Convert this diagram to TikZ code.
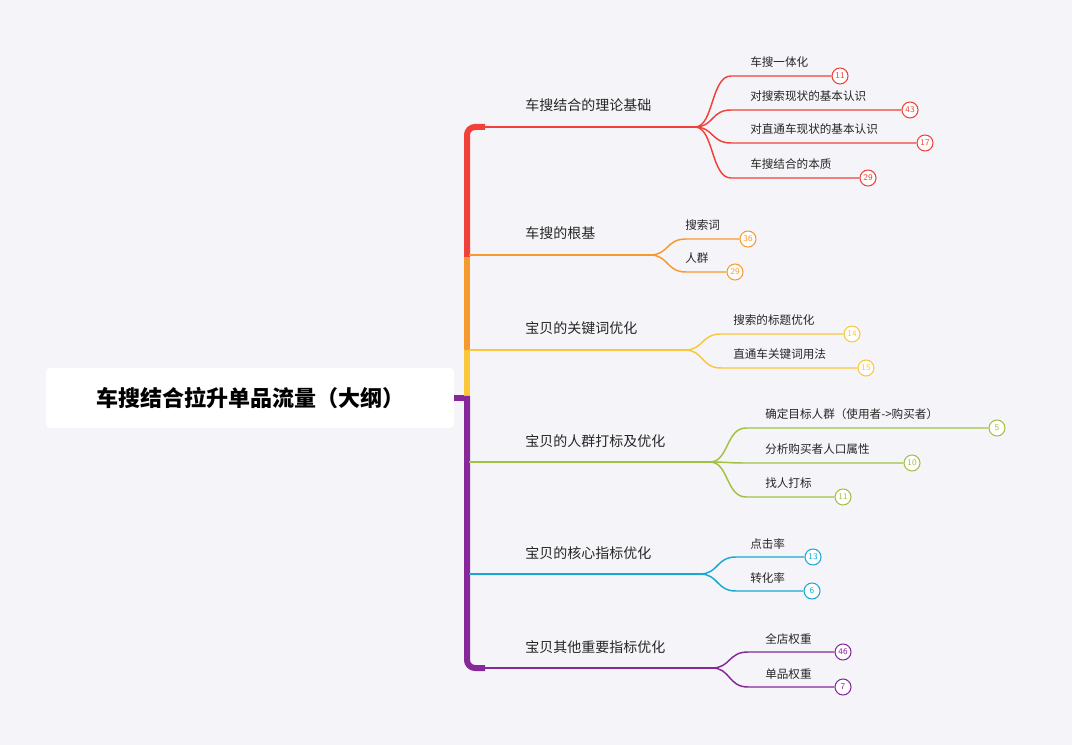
\documentclass[tikz,border=0pt]{standalone}
\usepackage{fontspec}
\newfontfamily\cjk{Noto Sans CJK SC}
\definecolor{bg}{HTML}{F5F5F9}
\definecolor{cR}{HTML}{F0413A}
\definecolor{cO}{HTML}{F79A2E}
\definecolor{cY}{HTML}{F9C73A}
\definecolor{cG}{HTML}{A2C141}
\definecolor{cB}{HTML}{17A9D4}
\definecolor{cP}{HTML}{86289A}
\begin{document}
\begin{tikzpicture}[x=0.75pt,y=-0.75pt,
  blab/.style={anchor=base west,font=\cjk\fontsize{10.5}{12}\selectfont,text=black!85,inner sep=0},
  llab/.style={anchor=base west,font=\cjk\fontsize{8.7}{10}\selectfont,text=black!85,inner sep=0},
  trunk/.style={line width=4.5pt},
  bline/.style={line width=1.5pt},
  lline/.style={line width=1.1pt},
  numc/.style={circle,draw,fill=white,line width=0.8pt,minimum size=12pt,inner sep=0,font=\sffamily\fontsize{6.5}{6.5}\selectfont}]
\fill[bg] (0,0) rectangle (1072,745);
\useasboundingbox (0,0) rectangle (1072,745);
\node[fill=white,rounded corners=3pt,minimum width=306pt,minimum height=45pt,font=\cjk\bfseries\fontsize{16.5}{20}\selectfont] (root) at (250,398) {车搜结合拉升单品流量（大纲）};
\coordinate (tr) at (467,398);
\draw[cP,trunk] (root.east) -- (tr);
\draw[cR,trunk,rounded corners=6] (467,257) -- (467,127) -- (485,127);
\draw[cO,trunk] (467,257) -- (467,352);
\draw[cY,trunk] (467,350) -- (467,398);
\draw[cP,trunk,rounded corners=6] (467,396) -- (467,668) -- (485,668);
\foreach \n/\c/\y/\e/\t in {r/cR/127/695/车搜结合的理论基础, o/cO/255/650/车搜的根基, y/cY/350/685/宝贝的关键词优化, g/cG/462/710/宝贝的人群打标及优化, b/cB/574/700/宝贝的核心指标优化, p/cP/668/712/宝贝其他重要指标优化}{
  \coordinate (s\n) at (469,\y);
  \coordinate (e\n) at (\e,\y);
  \draw[\c,bline] (s\n) -- (e\n);
  \node[blab] (l\n) at (525,\y-16) {\t};
}
\foreach \n/\k/\c/\y/\cx/\lx/\num/\t in {
 r/1/cR/76/840/750/11/车搜一体化, r/2/cR/110/910/750/43/对搜索现状的基本认识, r/3/cR/143/925/750/17/对直通车现状的基本认识, r/4/cR/178/868/750/29/车搜结合的本质,
 o/1/cO/239/748/685/36/搜索词, o/2/cO/272/735/685/29/人群,
 y/1/cY/334/852/733/14/搜索的标题优化, y/2/cY/368/866/733/15/直通车关键词用法,
 g/1/cG/428/997/765/5/确定目标人群（使用者->购买者）, g/2/cG/463/912/765/10/分析购买者人口属性, g/3/cG/497/843/765/11/找人打标,
 b/1/cB/557/813/750/13/点击率, b/2/cB/591/812/750/6/转化率,
 p/1/cP/652/843/765/46/全店权重, p/2/cP/687/843/765/7/单品权重}{
  \node[numc,draw=\c,text=\c] (c\n\k) at (\cx,\y) {\num};
  \node[llab] (t\n\k) at (\lx,\y-9) {\t};
  \draw[\c,lline] (e\n) .. controls ([xshift=14pt]e\n) and ([xshift=12pt]e\n |- c\n\k) .. ([xshift=27pt]e\n |- c\n\k) -- (c\n\k.west);
}
\end{tikzpicture}
\end{document}
